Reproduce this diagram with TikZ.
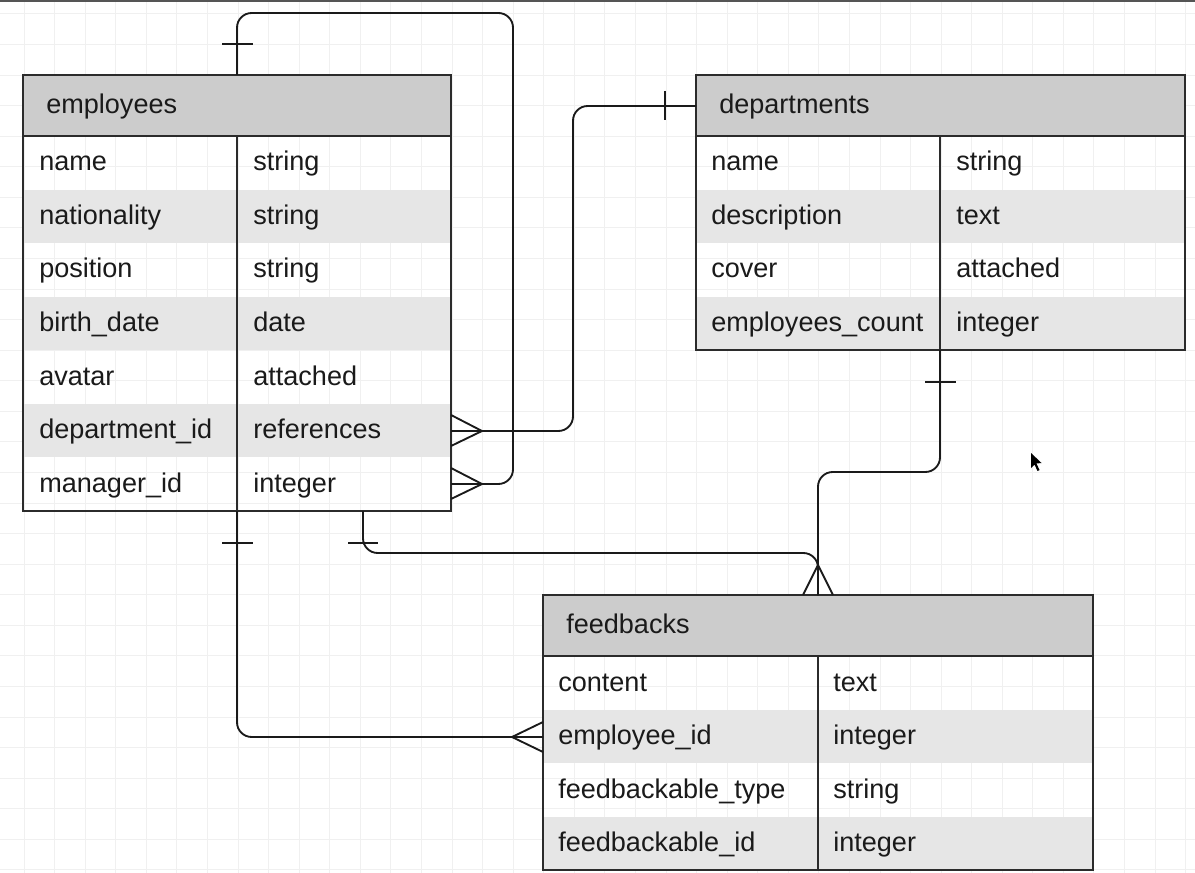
\documentclass[tikz,border=0pt]{standalone}
\usepackage{fontspec}
\setmainfont{Liberation Sans}
\definecolor{hdr}{HTML}{CCCCCC}
\definecolor{alt}{HTML}{E6E6E6}
\definecolor{edge}{HTML}{2B2B2B}
\definecolor{ink}{HTML}{1A1A1A}
\definecolor{gridc}{HTML}{F0F0F0}
\definecolor{topline}{HTML}{555555}
\begin{document}
\begin{tikzpicture}[x=0.75pt,y=-0.75pt,
  gridline/.style={draw=gridc,line width=0.7pt},
  tbl/.style={draw=edge,line width=1.4pt},
  hdrfill/.style={fill=hdr},
  altfill/.style={fill=alt},
  txt/.style={anchor=base west,inner sep=0pt,text=ink,font=\fontsize{20.3pt}{22pt}\selectfont},
  conn/.style={draw=ink,line width=1.4pt,rounded corners=11pt},
  notation/.style={draw=ink,line width=1.4pt}]
\useasboundingbox (0,0) rectangle (1195,873);
\fill[white] (0,0) rectangle (1195,873);
% grid
\foreach \i in {0,...,38} {\draw[gridline] ({24+\i*30.57},0) -- ({24+\i*30.57},873);}
\foreach \j in {-2,...,26} {\draw[gridline] (0,{75+\j*30.57}) -- (1195,{75+\j*30.57});}
\draw[draw=topline,line width=1.5pt] (0,0.8) -- (1195,0.8);

% ---------- employees ----------
\fill[hdrfill] (23,75) rectangle (451,136);
\fill[altfill] (23,190) rectangle (451,243);
\fill[altfill] (23,297) rectangle (451,350);
\fill[altfill] (23,404) rectangle (451,457);
\draw[tbl] (23,75) rectangle (451,511);
\draw[tbl] (23,136) -- (451,136);
\draw[tbl] (237,136) -- (237,511);
\node[txt] (empH) at (46,113.5) {employees};
\node[txt] (e1a) at (39,171) {name};            \node[txt] (e1b) at (253,171) {string};
\node[txt] (e2a) at (39,224.5) {nationality};     \node[txt] (e2b) at (253,224.5) {string};
\node[txt] (e3a) at (39,278) {position};        \node[txt] (e3b) at (253,278) {string};
\node[txt] (e4a) at (39,331.5) {birth\_date};     \node[txt] (e4b) at (253,331.5) {date};
\node[txt] (e5a) at (39,385) {avatar};          \node[txt] (e5b) at (253,385) {attached};
\node[txt] (e6a) at (39,438.5) {department\_id};  \node[txt] (e6b) at (253,438.5) {references};
\node[txt] (e7a) at (39,492) {manager\_id};     \node[txt] (e7b) at (253,492) {integer};

% ---------- departments ----------
\fill[hdrfill] (696,75) rectangle (1185,136);
\fill[altfill] (696,190) rectangle (1185,243);
\fill[altfill] (696,297) rectangle (1185,350);
\draw[tbl] (696,75) rectangle (1185,350);
\draw[tbl] (696,136) -- (1185,136);
\draw[tbl] (940,136) -- (940,350);
\node[txt] (depH) at (719,113.5) {departments};
\node[txt] (d1a) at (711,171) {name};             \node[txt] (d1b) at (956,171) {string};
\node[txt] (d2a) at (711,224.5) {description};      \node[txt] (d2b) at (956,224.5) {text};
\node[txt] (d3a) at (711,278) {cover};            \node[txt] (d3b) at (956,278) {attached};
\node[txt] (d4a) at (711,331.5) {employees\_count}; \node[txt] (d4b) at (956,331.5) {integer};

% ---------- feedbacks ----------
\fill[hdrfill] (543,595) rectangle (1093,656);
\fill[altfill] (543,710) rectangle (1093,763);
\fill[altfill] (543,817) rectangle (1093,870);
\draw[tbl] (543,595) rectangle (1093,870);
\draw[tbl] (543,656) -- (1093,656);
\draw[tbl] (818,656) -- (818,870);
\node[txt] (fbH) at (566,633.5) {feedbacks};
\node[txt] (f1a) at (558,691) {content};            \node[txt] (f1b) at (833,691) {text};
\node[txt] (f2a) at (558,744.5) {employee\_id};       \node[txt] (f2b) at (833,744.5) {integer};
\node[txt] (f3a) at (558,798) {feedbackable\_type}; \node[txt] (f3b) at (833,798) {string};
\node[txt] (f4a) at (558,851.5) {feedbackable\_id};   \node[txt] (f4b) at (833,851.5) {integer};

% ---------- connection points ----------
\coordinate (empTop) at (237,75);
\coordinate (empMgr) at (451,484);
\coordinate (empDep) at (451,431);
\coordinate (empBotL) at (237,511);
\coordinate (empBotR) at (363,511);
\coordinate (depLeft) at (696,106);
\coordinate (depBot) at (940,350);
\coordinate (fbTop) at (818,595);
\coordinate (fbLeft) at (543,737);

% self reference employees.manager_id
\draw[conn] (empTop) -- (237,13) -- (513,13) -- (513,484) -- (empMgr);
\draw[notation] (222,44) -- (253,44);
\draw[notation] (451,468) -- (482,484) -- (451,499);

% employees.department_id -> departments
\draw[conn] (empDep) -- (573,431) -- (573,106) -- (depLeft);
\draw[notation] (665,91) -- (665,120);
\draw[notation] (451,415) -- (482,431) -- (451,446);

% departments -> feedbacks (polymorphic)
\draw[conn] (depBot) -- (940,472) -- (818,472) -- (fbTop);
\draw[notation] (925,382) -- (956,382);
% employees -> feedbacks (polymorphic)
\draw[conn] (empBotR) -- (363,553) -- (818,553) -- (fbTop);
\draw[notation] (348,543) -- (378,543);
\draw[notation] (803,595) -- (818,565) -- (833,595);

% employees -> feedbacks.employee_id
\draw[conn] (empBotL) -- (237,737) -- (fbLeft);
\draw[notation] (222,543) -- (253,543);
\draw[notation] (543,722) -- (512,737) -- (543,752);

% mouse pointer
\fill[black] (1031,453) -- (1031,468) -- (1034.5,464.5) -- (1037.5,471) -- (1039.5,470) -- (1036.5,463.5) -- (1041.5,463) -- cycle;
\end{tikzpicture}
\end{document}
